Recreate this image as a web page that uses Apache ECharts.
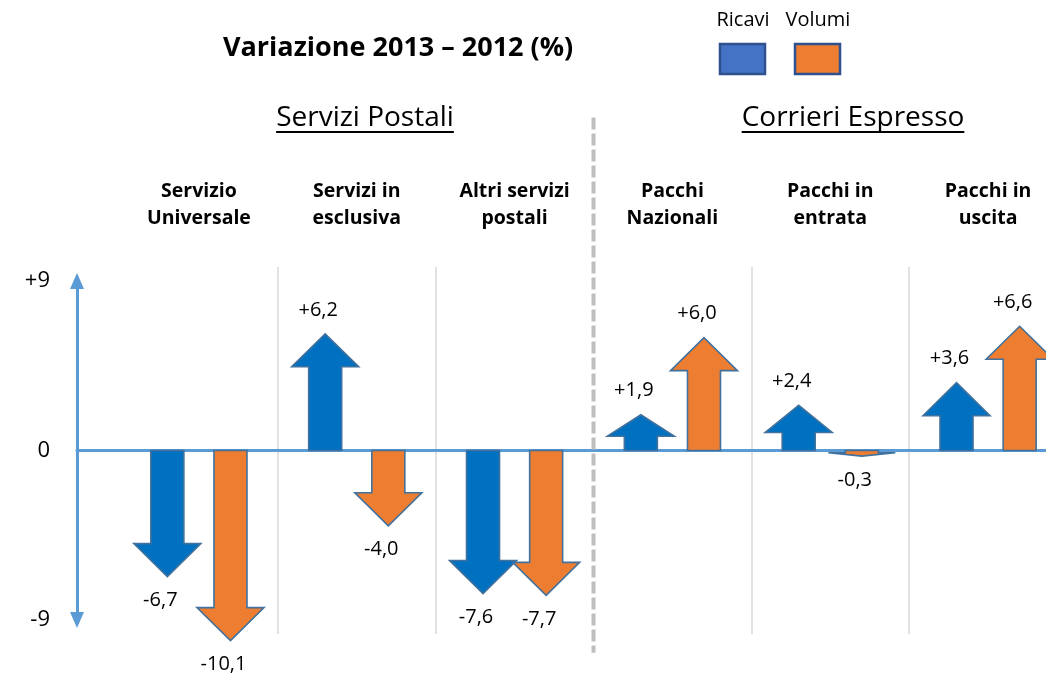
<!DOCTYPE html>
<html>
<head>
<meta charset="utf-8">
<script src="https://cdn.jsdelivr.net/npm/echarts@6/dist/echarts.min.js"></script>
<style>
  html, body { margin: 0; padding: 0; background: #fff; overflow: hidden; }
  /* the last category band runs past the right edge of the window */
  #chart { width: 1090px; height: 688px; }
</style>
</head>
<body>
<div id="chart"></div>
<script>
// Year-on-year change 2013 vs 2012, in percent
const categories = ['Servizio\nUniversale', 'Servizi in\nesclusiva', 'Altri servizi\npostali',
                    'Pacchi\nNazionali', 'Pacchi in\nentrata', 'Pacchi in\nuscita'];
const ricavi = [-6.7, 6.2, -7.6, 1.9, 2.4, 3.6];
const volumi = [-10.1, -4.0, -7.7, 6.0, -0.3, 6.6];
const seriesNames = ['Ricavi', 'Volumi'];
const sectionNames = ['Servizi Postali', 'Corrieri Espresso'];
const yTicks = [-9, 0, 9];
const titleText = 'Variazione 2013 \u2013 2012 (%)';

const FONT = '"Open Sans", "Noto Sans", sans-serif';
const AXIS_BLUE = '#5B9BD5';
const FILLS = ['#0070C0', '#ED7D31'];
const EDGE = '#41719C';

function fmt(v) {
  return (v > 0 ? '+' : '') + v.toFixed(1).replace('.', ',');
}

function measure(text, font) {
  const ctx = document.createElement('canvas').getContext('2d');
  ctx.font = font;
  return ctx.measureText(text).width;
}

// Arrow drawn from zero to the value; side = -1 left slot, +1 right slot
function arrowRenderer(side, fill) {
  return function (params, api) {
    const idx = api.value(0);
    const v = api.value(1);
    const base = api.coord([idx, 0]);
    const tip = api.coord([idx, v]);
    const band = api.size([1, 0])[0];
    const x = base[0] + side * 0.2 * band;
    const shaft = 33, headW = 67;
    const len = Math.abs(tip[1] - base[1]);
    const dir = tip[1] < base[1] ? -1 : 1;      // -1 pointing up
    const headH = Math.min(33, 0.6 * len);
    const yb = tip[1] - dir * headH;
    const pts = [
      [x - shaft / 2, base[1]], [x - shaft / 2, yb], [x - headW / 2, yb],
      [x, tip[1]],
      [x + headW / 2, yb], [x + shaft / 2, yb], [x + shaft / 2, base[1]]
    ];
    return {
      type: 'group',
      children: [
        { type: 'polygon', shape: { points: pts },
          style: { fill: fill, stroke: EDGE, lineWidth: 1.6, lineJoin: 'miter' } },
        { type: 'text',
          style: { text: fmt(v), x: x - 7, y: tip[1] + dir * 24, align: 'center',
                   verticalAlign: 'middle', font: '20px ' + FONT, fill: '#000' } }
      ]
    };
  };
}

// Dashed divider between the two sections
function dividerRenderer(params, api) {
  const c = api.coord([api.value(0), 0]);
  const band = api.size([1, 0])[0];
  const x = c[0] + band / 2;
  const top = api.coord([api.value(0), 17.7])[1];
  const bottom = api.coord([api.value(0), -10.75])[1];
  return {
    type: 'line',
    shape: { x1: x, y1: top, x2: x, y2: bottom },
    style: { stroke: '#BFBFBF', lineWidth: 4, lineDash: [12, 4] }
  };
}

const chart = echarts.init(document.getElementById('chart'), null, { renderer: 'canvas' });

const sectionFont = '28px ' + FONT;
const sectionCenters = [365, 853];
const graphics = [];
sectionNames.forEach(function (name, i) {
  const w = measure(name, sectionFont);
  graphics.push({ type: 'text', left: sectionCenters[i] - w / 2, top: 104,
    style: { text: name, font: sectionFont, fill: '#000' } });
  graphics.push({ type: 'line', shape: { x1: sectionCenters[i] - w / 2, y1: 132,
    x2: sectionCenters[i] + w / 2, y2: 132 }, style: { stroke: '#000', lineWidth: 2 } });
});
// Legend: labels above coloured squares
const legendX = [743, 818];
const legendFills = ['#4472C4', '#ED7D31'];
const legendFont = '20px ' + FONT;
seriesNames.forEach(function (name, i) {
  const w = measure(name, legendFont);
  graphics.push({ type: 'text', left: legendX[i] - w / 2, top: 10,
    style: { text: name, font: legendFont, fill: '#000' } });
  graphics.push({ type: 'rect', shape: { x: legendX[i] - 23, y: 44, width: 45, height: 30 },
    style: { fill: legendFills[i], stroke: '#2F528F', lineWidth: 2.5 } });
});

chart.setOption({
  backgroundColor: '#fff',
  animation: false,
  title: {
    text: titleText, left: 218, top: 30,
    textStyle: { fontFamily: FONT, fontWeight: 'bold', fontSize: 27, color: '#000' }
  },
  graphic: graphics,
  grid: [
    { left: 77, right: 44, top: 281, bottom: 68 },
    { left: 120, right: 23, top: 267, bottom: 54 }
  ],
  xAxis: [
    { type: 'value', gridIndex: 0, min: 0, max: 1,
      axisLine: { show: true, onZero: true, lineStyle: { color: AXIS_BLUE, width: 3 } },
      axisTick: { show: false }, axisLabel: { show: false }, splitLine: { show: false } },
    { type: 'category', gridIndex: 1, data: categories, position: 'top',
      axisLine: { show: false }, axisTick: { show: false },
      axisLabel: { interval: 0, margin: 35, fontFamily: FONT, fontWeight: 'bold',
                   fontSize: 19.5, lineHeight: 27, color: '#000', align: 'center' },
      splitLine: { show: true, interval: 0,
        lineStyle: { width: 1.5,
          color: ['rgba(0,0,0,0)', '#D9D9D9', '#D9D9D9', 'rgba(0,0,0,0)', '#D9D9D9', '#D9D9D9', '#D9D9D9'] } } }
  ],
  yAxis: [
    { type: 'value', gridIndex: 0, min: yTicks[0], max: yTicks[yTicks.length - 1],
      interval: yTicks[1] - yTicks[0],
      axisLine: { show: true, symbol: ['triangle', 'triangle'], symbolSize: [14, 16],
                  lineStyle: { color: AXIS_BLUE, width: 3 } },
      axisTick: { show: false }, splitLine: { show: false },
      axisLabel: { margin: 27, fontFamily: FONT, fontSize: 22, color: '#000',
                   formatter: function (v) { return v > 0 ? '+' + v : String(v); } } },
    { type: 'value', gridIndex: 1, min: -9.75, max: 9.75, show: false }
  ],
  series: [
    { name: seriesNames[0], type: 'custom', xAxisIndex: 1, yAxisIndex: 1, clip: false,
      renderItem: arrowRenderer(-1, FILLS[0]),
      data: ricavi.map(function (v, i) { return [i, v]; }) },
    { name: seriesNames[1], type: 'custom', xAxisIndex: 1, yAxisIndex: 1, clip: false,
      renderItem: arrowRenderer(1, FILLS[1]),
      data: volumi.map(function (v, i) { return [i, v]; }) },
    { type: 'custom', xAxisIndex: 1, yAxisIndex: 1, clip: false, silent: true,
      renderItem: dividerRenderer, data: [[2, 0]] }
  ]
});
</script>
</body>
</html>
